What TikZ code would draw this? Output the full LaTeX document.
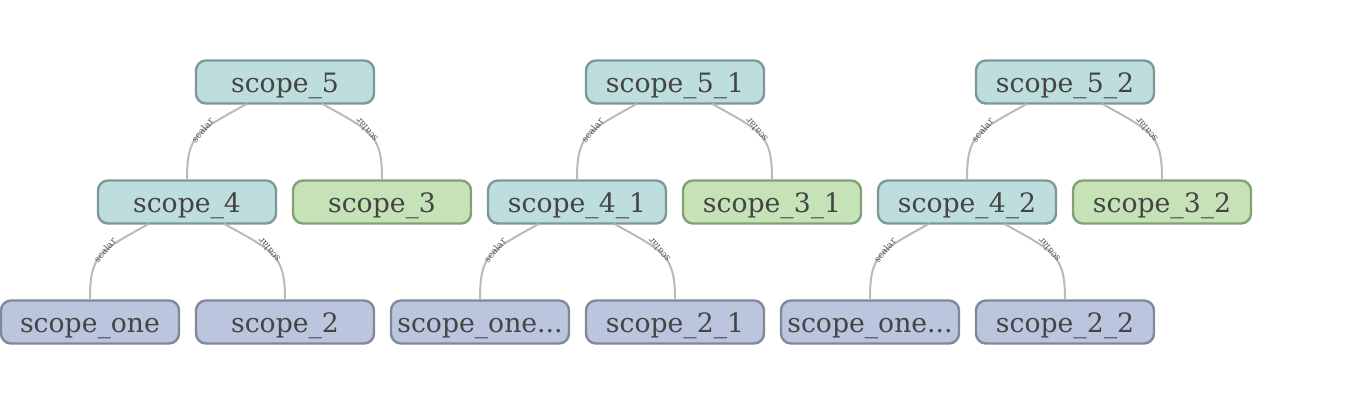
\documentclass[tikz,border=0pt]{standalone}
\usepackage{fontspec}
\setmainfont{DejaVu Serif}
\definecolor{tealfill}{RGB}{190,221,221}
\definecolor{tealdraw}{RGB}{125,152,152}
\definecolor{greenfill}{RGB}{198,226,183}
\definecolor{greendraw}{RGB}{132,160,118}
\definecolor{bluefill}{RGB}{187,198,222}
\definecolor{bluedraw}{RGB}{128,136,154}
\definecolor{txt}{RGB}{68,68,68}
\definecolor{edgec}{RGB}{186,186,186}
\tikzset{
  box/.style={rounded corners=7.5pt, line width=1.8pt, minimum width=133.5pt, minimum height=32.25pt, inner sep=0pt, text=txt, font=\fontsize{20pt}{24pt}\selectfont, text height=20pt, text depth=5pt},
  tealbox/.style={box, fill=tealfill, draw=tealdraw},
  greenbox/.style={box, fill=greenfill, draw=greendraw},
  bluebox/.style={box, fill=bluefill, draw=bluedraw},
  edge/.style={draw=edgec, line width=1.5pt},
  lbl/.style={font=\fontsize{7pt}{7pt}\selectfont, text=txt!90, inner sep=0pt}
}
\begin{document}
\begin{tikzpicture}[x=0.75pt,y=-0.75pt]
\useasboundingbox (0,0) rectangle (1372,405);
% tree 0
\node[tealbox]  (s5)  at (285,82)  {scope\_5};
\node[tealbox]  (s4)  at (187,202) {scope\_4};
\node[greenbox] (s3)  at (382,202) {scope\_3};
\node[bluebox]  (so)  at (90,322)  {scope\_one};
\node[bluebox]  (s2)  at (285,322) {scope\_2};
% tree 1
\node[tealbox]  (s51) at (675,82)  {scope\_5\_1};
\node[tealbox]  (s41) at (577,202) {scope\_4\_1};
\node[greenbox] (s31) at (772,202) {scope\_3\_1};
\node[bluebox]  (so1) at (480,322) {scope\_one...};
\node[bluebox]  (s21) at (675,322) {scope\_2\_1};
% tree 2
\node[tealbox]  (s52) at (1065,82)  {scope\_5\_2};
\node[tealbox]  (s42) at (967,202)  {scope\_4\_2};
\node[greenbox] (s32) at (1162,202) {scope\_3\_2};
\node[bluebox]  (so2) at (870,322)  {scope\_one...};
\node[bluebox]  (s22) at (1065,322) {scope\_2\_2};
% edges
\foreach \p/\l/\r in {s5/s4/s3, s4/so/s2, s51/s41/s31, s41/so1/s21, s52/s42/s32, s42/so2/s22}{
  \draw[edge] ([xshift=-28.5pt,yshift=0.75pt]\p.south) .. controls +(-50,28) and +(0,-45) .. (\l.north)
     node[lbl, pos=0.42, rotate=50, yshift=0.5pt] {scalar};
  \draw[edge] ([xshift=27.75pt,yshift=0.75pt]\p.south) .. controls +(50,28) and +(0,-45) .. (\r.north)
     node[lbl, pos=0.42, rotate=130, yshift=-0.5pt] {scalar};
}
\end{tikzpicture}
\end{document}
